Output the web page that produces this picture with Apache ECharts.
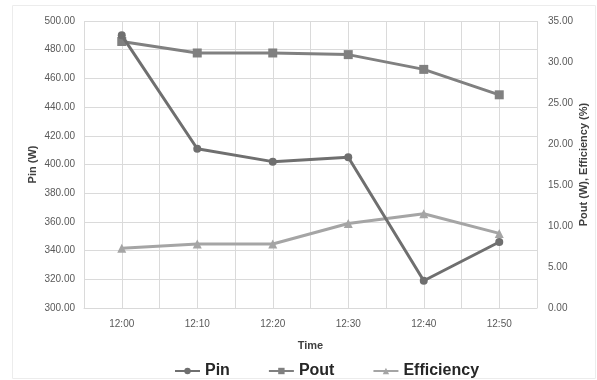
<!DOCTYPE html>
<html>
<head>
<meta charset="utf-8">
<script src="https://cdn.jsdelivr.net/npm/echarts@6/dist/echarts.min.js"></script>
<style>html,body{margin:0;padding:0;background:#fff;overflow:hidden;}#c{width:597px;height:380px;}</style>
</head>
<body>
<div id="c"></div>
<script>
const categories = ['12:00', '12:10', '12:20', '12:30', '12:40', '12:50'];
const pin = [490, 411, 402, 405, 319, 346];
const pout = [32.5, 31.1, 31.1, 30.9, 29.1, 26.0];
const efficiency = [7.3, 7.8, 7.8, 10.3, 11.5, 9.1];
const leftTicks = { min: 300, max: 500, interval: 20 };
const rightTicks = { min: 0, max: 35, interval: 5 };

const chart = echarts.init(document.getElementById('c'));
const labelFont = { color: '#595959', fontSize: 10, fontFamily: 'Liberation Sans' };
chart.setOption({
  animation: false,
  graphic: [{ type: 'rect', shape: { x: 12.5, y: 5.5, width: 583, height: 373 }, style: { fill: 'none', stroke: '#ececec', lineWidth: 1 } }],
  grid: { left: 84, right: 60, top: 21, bottom: 72, containLabel: false, outerBoundsMode: 'none' },
  legend: {
    top: 358, left: 169, itemWidth: 25, itemHeight: 8, itemGap: 38,
    textStyle: { fontSize: 16, fontWeight: 'bold', color: '#262626', fontFamily: 'Liberation Sans' },
    data: ['Pin', 'Pout', 'Efficiency']
  },
  xAxis: [{
    type: 'category', data: categories, boundaryGap: true,
    name: 'Time', nameLocation: 'middle', nameGap: 32,
    nameTextStyle: { fontSize: 11, fontWeight: 'bold', color: '#404040', fontFamily: 'Liberation Sans' },
    axisLine: { lineStyle: { color: '#d9d9d9' } }, axisTick: { show: false },
    axisLabel: Object.assign({ margin: 11 }, labelFont),
    splitLine: { show: false }
  }, {
    type: 'value', min: 0, max: 12, interval: 1, position: 'bottom',
    axisLine: { show: false }, axisTick: { show: false }, axisLabel: { show: false },
    splitLine: { show: true, lineStyle: { color: '#dadada', width: 1 } }
  }],
  yAxis: [{
    type: 'value', min: leftTicks.min, max: leftTicks.max, interval: leftTicks.interval,
    name: 'Pin (W)', nameLocation: 'middle', nameGap: 46, nameMoveOverlap: false,
    nameTextStyle: { fontSize: 11, fontWeight: 'bold', color: '#404040', fontFamily: 'Liberation Sans' },
    axisLine: { show: false }, axisTick: { show: false },
    axisLabel: Object.assign({ margin: 9, formatter: v => v.toFixed(2) }, labelFont),
    splitLine: { lineStyle: { color: '#dadada' } }
  }, {
    type: 'value', min: rightTicks.min, max: rightTicks.max, interval: rightTicks.interval, position: 'right',
    name: 'Pout (W), Efficiency (%)', nameLocation: 'middle', nameGap: 41, nameMoveOverlap: false,
    nameTextStyle: { fontSize: 11, fontWeight: 'bold', color: '#404040', fontFamily: 'Liberation Sans' },
    axisLine: { show: false }, axisTick: { show: false },
    axisLabel: Object.assign({ margin: 11, formatter: v => v.toFixed(2) }, labelFont),
    splitLine: { show: false }
  }],
  series: [{
    name: 'Pin', type: 'line', data: pin, xAxisIndex: 0, yAxisIndex: 0,
    symbol: 'circle', symbolSize: 8, z: 3,
    lineStyle: { color: '#6f6f6f', width: 3 }, itemStyle: { color: '#6f6f6f' }
  }, {
    name: 'Pout', type: 'line', data: pout, xAxisIndex: 0, yAxisIndex: 1,
    symbol: 'rect', symbolSize: 9, z: 2,
    lineStyle: { color: '#808080', width: 3 }, itemStyle: { color: '#808080' }
  }, {
    name: 'Efficiency', type: 'line', data: efficiency, xAxisIndex: 0, yAxisIndex: 1,
    symbol: 'triangle', symbolSize: 9, z: 2,
    lineStyle: { color: '#a5a5a5', width: 3 }, itemStyle: { color: '#a5a5a5' }
  }]
});
</script>
</body>
</html>
